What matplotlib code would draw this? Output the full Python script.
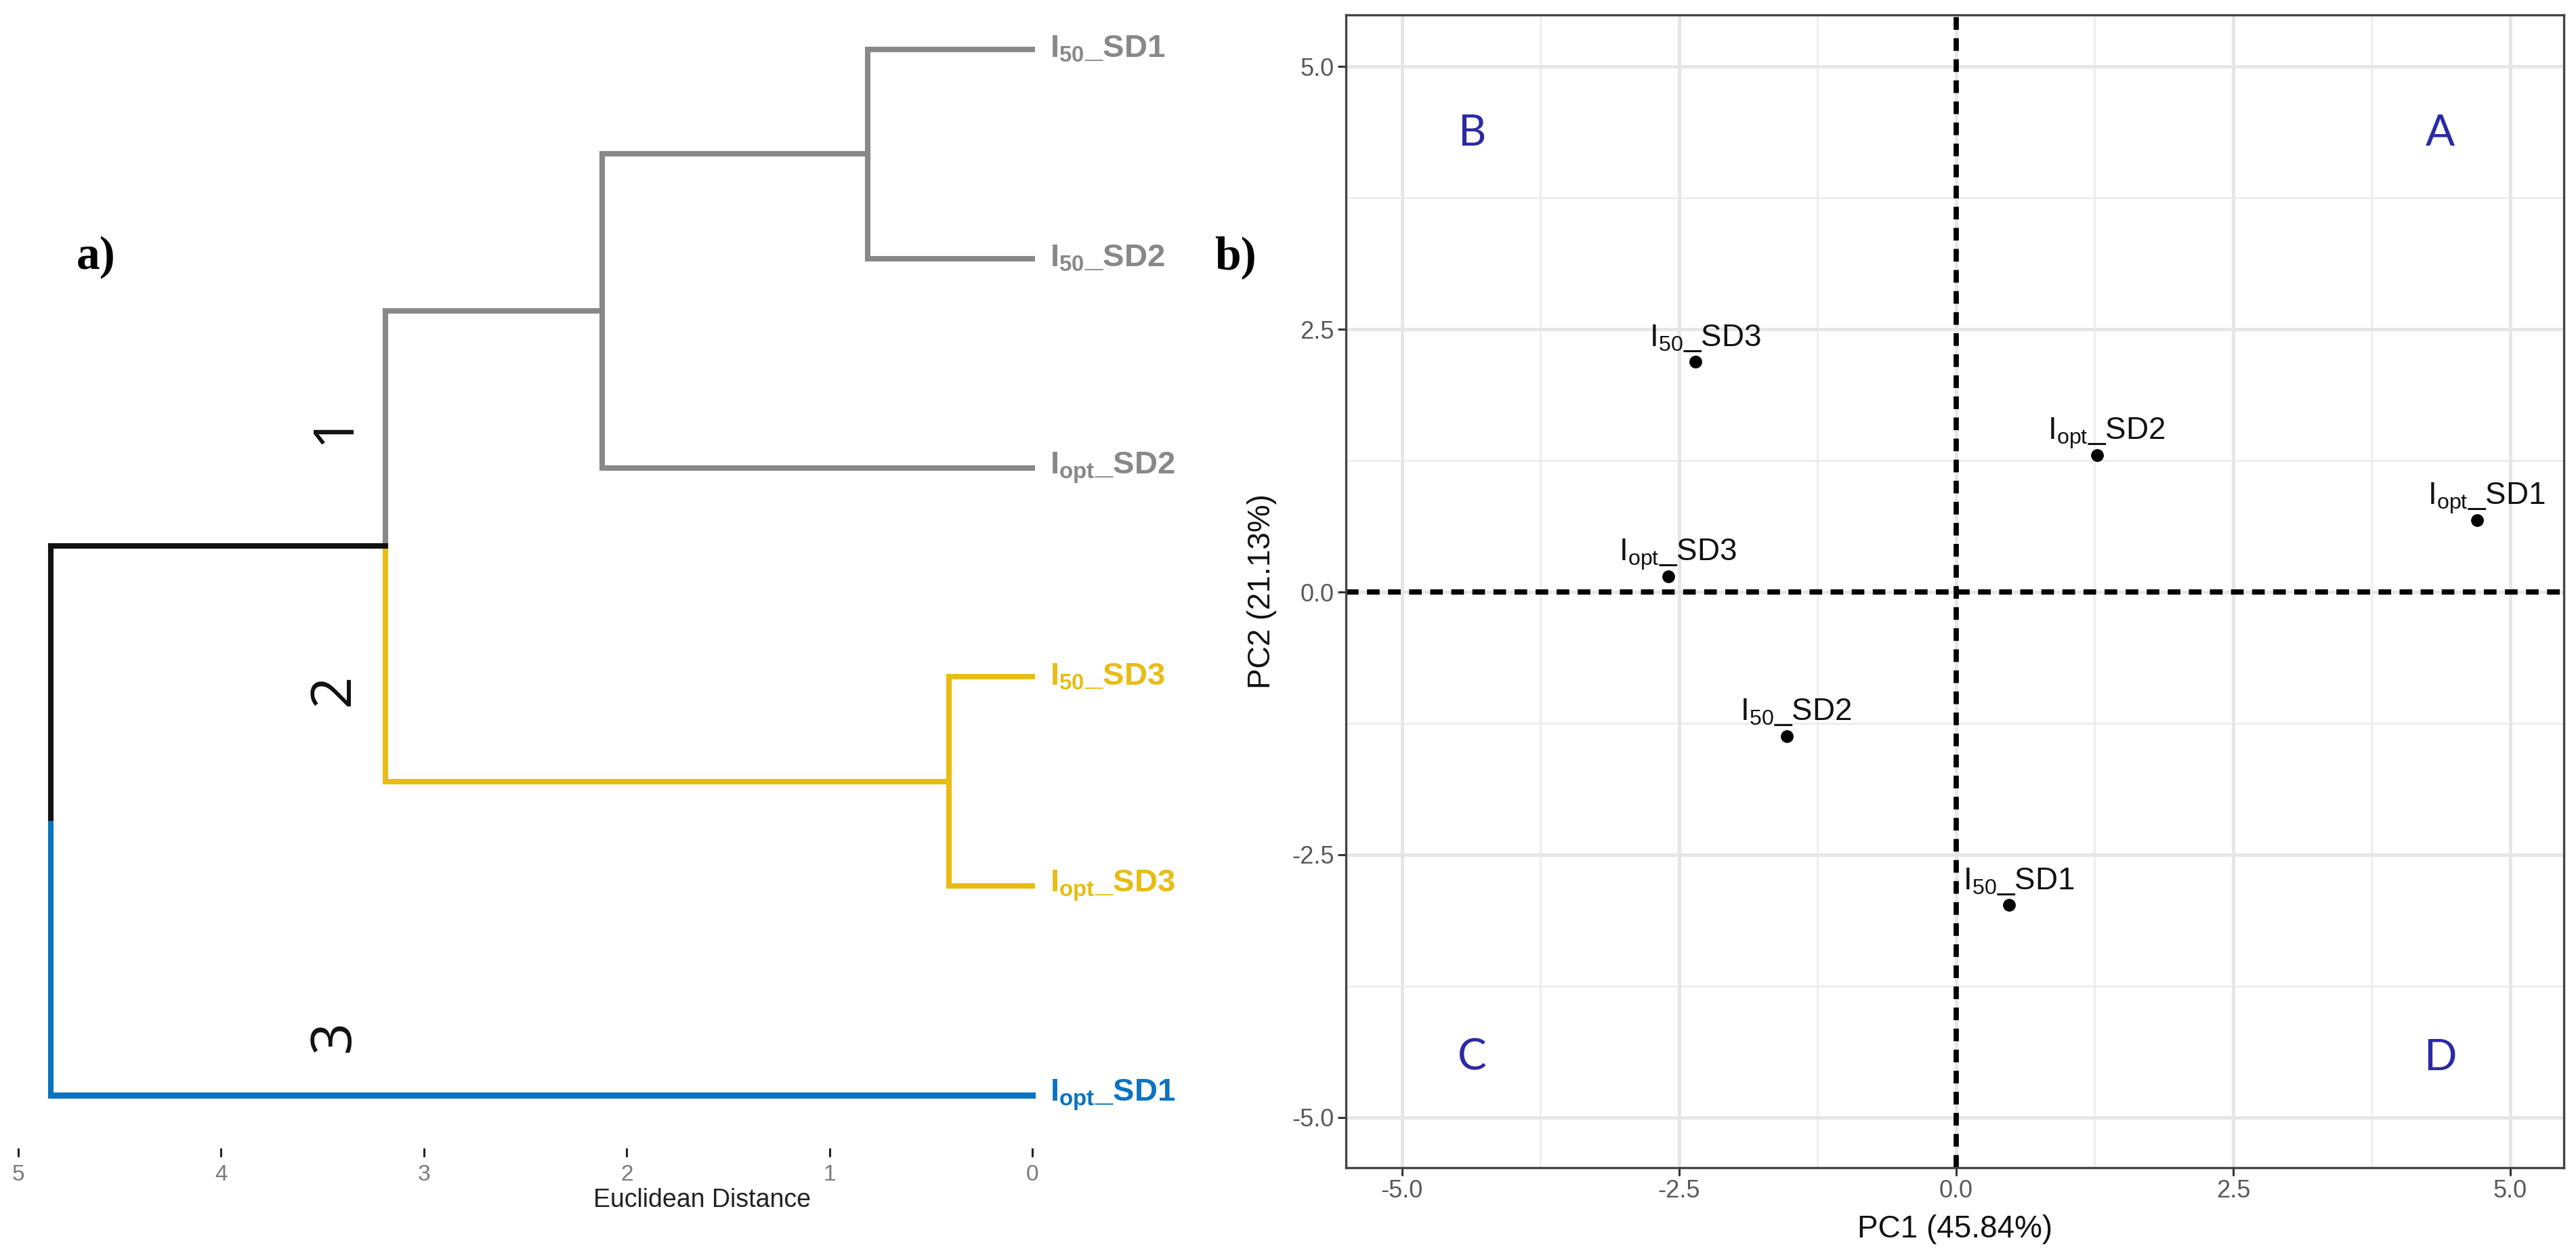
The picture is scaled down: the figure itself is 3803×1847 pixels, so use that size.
import matplotlib
matplotlib.use("Agg")
import matplotlib.pyplot as plt

plt.rcParams['font.family'] = ['Liberation Sans', 'DejaVu Sans']
plt.rcParams['mathtext.fontset'] = 'custom'
plt.rcParams['mathtext.rm'] = 'Liberation Sans'
plt.rcParams['mathtext.it'] = 'Liberation Sans:italic'
plt.rcParams['mathtext.bf'] = 'Liberation Sans:bold'

# ---------------- data ----------------
# dendrogram (leaves listed top -> bottom)
leaf_names = ['50|SD1', '50|SD2', 'opt|SD2', '50|SD3', 'opt|SD3', 'opt|SD1']
leaf_cluster = [1, 1, 1, 2, 2, 3]
cluster_colors = {1: '#888888', 2: '#E8BC14', 3: '#0A74C0'}
# merges: (child_a, child_b); new node ids start at len(leaves)
merge_children = [(0, 1), (6, 2), (3, 4), (7, 8), (9, 5)]
merge_heights = [0.81, 2.12, 0.41, 3.19, 4.84]
dist_ticks = [5, 4, 3, 2, 1, 0]
cluster_numbers = ['1', '2', '3']
cluster_number_pos = [(3.44, 4.19), (3.44, 2.94), (3.44, 1.28)]

# PCA scores
pca_names = ['50|SD3', 'opt|SD2', 'opt|SD1', 'opt|SD3', '50|SD2', '50|SD1']
pc1 = [-2.35, 1.27, 4.70, -2.60, -1.53, 0.48]
pc2 = [2.19, 1.30, 0.68, 0.15, -1.37, -2.98]
pc_ticks = [-5.0, -2.5, 0.0, 2.5, 5.0]
pc_minor = [-3.75, -1.25, 1.25, 3.75]
quadrant_letters = ['A', 'B', 'C', 'D']
quadrant_pos = [(4.37, 4.36), (-4.37, 4.36), (-4.37, -4.43), (4.37, -4.43)]


def label_tex(name, bold=False):
    sub, rest = name.split('|')
    if bold:
        return r'I$_{\mathbf{%s}}$_%s' % (sub, rest)
    return r'I$_{\mathrm{%s}}$_%s' % (sub, rest)


W, H = 3803, 1847
fig = plt.figure(figsize=(W / 200, H / 200), dpi=200)


def rect(x0, y0, x1, y1):
    return [x0 / W, 1 - y1 / H, (x1 - x0) / W, (y1 - y0) / H]


# ---------------- panel a: dendrogram ----------------
ax1 = fig.add_axes(rect(27, 30, 1524, 1695))
n = len(leaf_names)
ypos = {i: n - i for i in range(n)}          # top leaf highest
hgt = {i: 0.0 for i in range(n)}
col = {i: cluster_colors[leaf_cluster[i]] for i in range(n)}
LW = 2.9
for k, ((a, b), h) in enumerate(zip(merge_children, merge_heights)):
    node = n + k
    ypos[node] = (ypos[a] + ypos[b]) / 2
    hgt[node] = h
    col[node] = col[a] if col[a] == col[b] else '#111111'
    for c in (a, b):
        ax1.plot([h, h], [ypos[node], ypos[c]], color=col[c], lw=LW,
                 solid_capstyle='butt', clip_on=False)
        ax1.plot([h, hgt[c]], [ypos[c], ypos[c]], color=col[c],
                 lw=LW + (0.4 if c == 5 else 0), solid_capstyle='projecting',
                 clip_on=False)

for i, name in enumerate(leaf_names):
    ax1.annotate(label_tex(name, bold=True), xy=(0, ypos[i]), xytext=(9.5, 0),
                 textcoords='offset points', ha='left', va='center',
                 fontsize=17, fontweight='bold', color=col[i],
                 annotation_clip=False)

for t, (x, y) in zip(cluster_numbers, cluster_number_pos):
    ax1.text(x, y, t, rotation=90, ha='center', va='center', fontsize=30,
             family=['Open Sans', 'DejaVu Sans'], color='#111111')

ax1.set_xlim(5, 0)
ax1.set_ylim(1 - 78 / 308.8, n + 43 / 308.8)
ax1.set_xticks(dist_ticks)
ax1.set_xticklabels([str(t) for t in dist_ticks])
ax1.set_yticks([])
for s in ax1.spines.values():
    s.set_visible(False)
ax1.tick_params(axis='x', length=4.5, width=1.1, color='#222222', pad=4,
                labelsize=12, labelcolor='#7A7A7A')
ax1.patch.set_alpha(0)
fig.text(1036 / W, 1 - 1772 / H, 'Euclidean Distance', ha='center',
         va='center', fontsize=13.5, color='#222222')

fig.text(142 / W, 1 - 380 / H, 'a)', ha='center', va='center', fontsize=25,
         fontweight='bold', family=['Liberation Serif', 'DejaVu Serif'])
fig.text(1824 / W, 1 - 380 / H, 'b)', ha='center', va='center', fontsize=25,
         fontweight='bold', family=['Liberation Serif', 'DejaVu Serif'])

# ---------------- panel b: PCA ----------------
ax2 = fig.add_axes(rect(1987, 22, 3785, 1724))
ax2.set_xlim(-5.507, 5.483)
ax2.set_ylim(-5.477, 5.49)
for v in pc_minor:
    ax2.axvline(v, color='#EDEDED', lw=1.0, zorder=0)
    ax2.axhline(v, color='#EDEDED', lw=1.0, zorder=0)
for v in pc_ticks:
    ax2.axvline(v, color='#E6E6E6', lw=1.8, zorder=0)
    ax2.axhline(v, color='#E6E6E6', lw=1.8, zorder=0)
dash = (0, (2.4, 1.6))
ax2.axvline(0, color='black', lw=2.8, linestyle=dash, zorder=1)
ax2.axhline(0, color='black', lw=2.8, linestyle=dash, zorder=1)

ax2.scatter(pc1, pc2, s=46, color='black', zorder=3, linewidths=0)
for name, x, y in zip(pca_names, pc1, pc2):
    ax2.annotate(label_tex(name), xy=(x, y), xytext=(5, 8.5),
                 textcoords='offset points', ha='center', va='baseline',
                 fontsize=16.5, color='#111111', zorder=4)

for t, (x, y) in zip(quadrant_letters, quadrant_pos):
    ax2.text(x, y, t, ha='center', va='center', fontsize=23,
             family=['Lato', 'DejaVu Sans'], color='#2A2AA6')

ax2.set_xticks(pc_ticks)
ax2.set_yticks(pc_ticks)
ax2.set_xticklabels(['%.1f' % t for t in pc_ticks])
ax2.set_yticklabels(['%.1f' % t for t in pc_ticks])
ax2.tick_params(length=4.3, width=1.1, color='#333333', pad=2,
                labelsize=13, labelcolor='#595959')
for s in ax2.spines.values():
    s.set_color('#444444')
    s.set_linewidth(1.2)
ax2.set_xlabel('PC1 (45.84%)', fontsize=16.5, color='#111111', labelpad=6)
ax2.set_ylabel('PC2 (21.13%)', fontsize=16.5, color='#111111', labelpad=8)

fig.savefig('out.png', dpi=200, facecolor='white')
